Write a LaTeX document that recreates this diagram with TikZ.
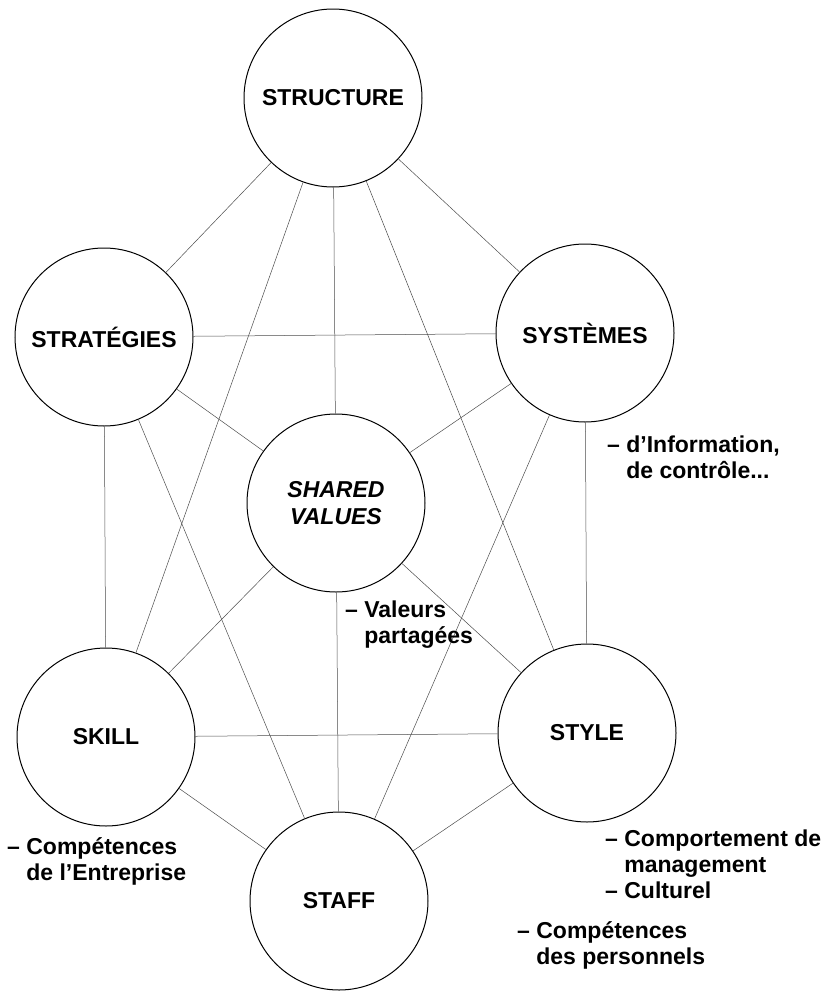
\documentclass[tikz,border=0pt]{standalone}
\usepackage{fontspec}
\setmainfont{Liberation Sans}
\tikzset{%
  factor/.style = {shape=circle, draw, line width=1pt,%
                   minimum size=178pt, inner sep=0pt, align=center,%
                   font=\fontsize{23}{27}\selectfont\bfseries},%
  values/.style = {factor, font=\fontsize{23}{27}\selectfont\bfseries\itshape},%
  link/.style   = {draw=black!70, line width=0.5pt},%
  remark/.style = {anchor=base west, inner sep=0pt, align=left,%
                   font=\fontsize{23}{26}\selectfont\bfseries}%
}

\begin{document}
\begin{tikzpicture}[x=1pt,y=-1pt]
  \useasboundingbox (0,0) rectangle (823,991);
  % the seven S
  \node [factor] (structure) at (333,98)  {STRUCTURE};
  \node [factor] (strategies) at (104,337) {STRATÉGIES};
  \node [factor] (systems)   at (585,333) {SYSTÈMES};
  \node [values] (shared)    at (336,503) {SHARED\\VALUES};
  \node [factor] (skill)     at (106,737) {SKILL};
  \node [factor] (style)     at (587,733) {STYLE};
  \node [factor] (staff)     at (339,901) {STAFF};
  % links
  \draw [link] (structure) -- (strategies);
  \draw [link] (structure) -- (systems);
  \draw [link] (structure) -- (shared);
  \draw [link] (structure) -- (skill);
  \draw [link] (structure) -- (style);
  \draw [link] (strategies) -- (systems);
  \draw [link] (strategies) -- (shared);
  \draw [link] (strategies) -- (skill);
  \draw [link] (strategies) -- (staff);
  \draw [link] (systems) -- (shared);
  \draw [link] (systems) -- (style);
  \draw [link] (systems) -- (staff);
  \draw [link] (shared) -- (skill);
  \draw [link] (shared) -- (style);
  \draw [link] (shared) -- (staff);
  \draw [link] (skill) -- (style);
  \draw [link] (skill) -- (staff);
  \draw [link] (style) -- (staff);
  % comments (base = last line)
  \node [remark] (systemsnote) at (607,478) {– d'Information,\\\phantom{– }de contrôle...};
  \node [remark] (sharednote)  at (345,643) {– Valeurs\\\phantom{– }partagées};
  \node [remark] (skillnote)   at (7,880)   {– Compétences\\\phantom{– }de l'Entreprise};
  \node [remark] (stylenote)   at (605,898) {– Comportement de\\\phantom{– }management\\– Culturel};
  \node [remark] (staffnote)   at (517,964) {– Compétences\\\phantom{– }des personnels};
\end{tikzpicture}
\end{document}
